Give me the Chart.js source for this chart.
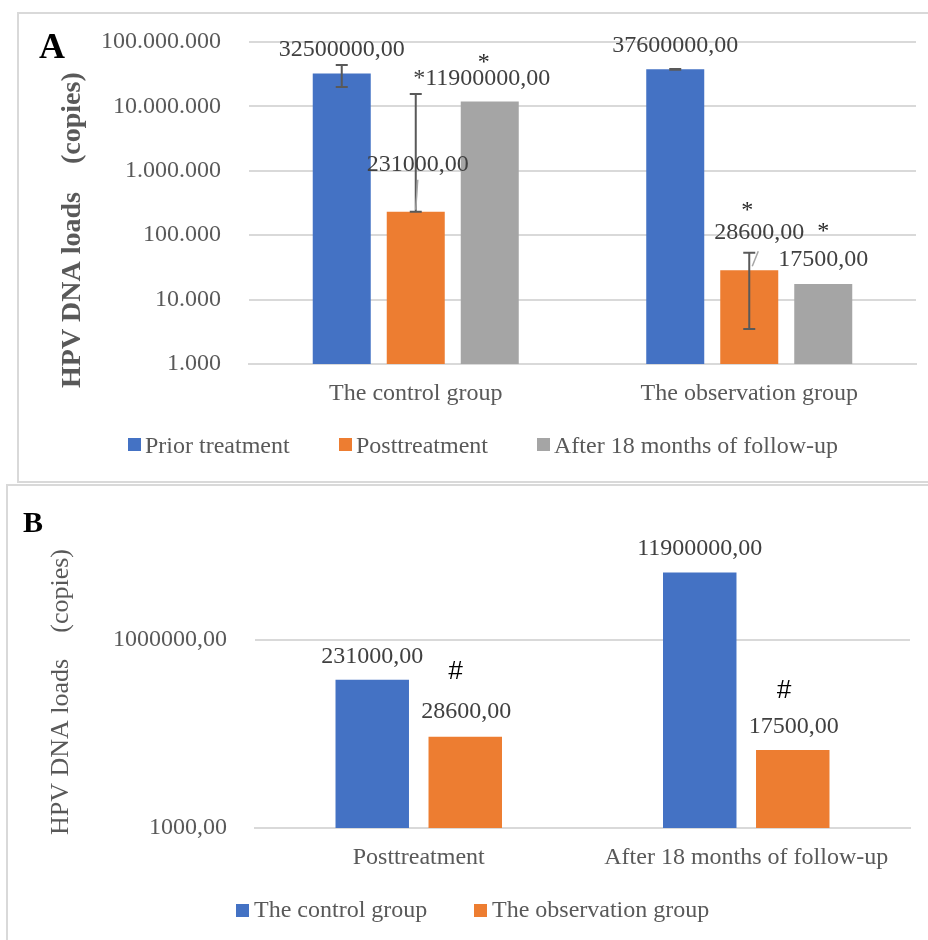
<!DOCTYPE html>
<html>
<head>
<meta charset="utf-8">
<script src="https://cdn.jsdelivr.net/npm/chart.js@4/dist/chart.umd.min.js"></script>
<style>
  html, body { margin: 0; padding: 0; background: #ffffff; width: 928px; height: 940px; overflow: hidden; }
  canvas { position: absolute; left: 0; }
  #chartA { top: 0; }
  #chartB { top: 484px; }
</style>
</head>
<body>
<canvas id="chartA" width="928" height="484"></canvas>
<canvas id="chartB" width="928" height="456"></canvas>
<script>
// ---------- Panel A data ----------
const groupsA = ['The control group', 'The observation group'];
const seriesA = ['Prior treatment', 'Posttreatment', 'After 18 months of follow-up'];
const priorA = [32500000, 37600000];
const postA = [231000, 28600];
const followA = [11900000, 17500];
const priorErrLowA = [20000000, 37200000];
const priorErrHighA = [44000000, 38000000];
const postErrLowA = [231000, 3500];
const postErrHighA = [15600000, 53500];
const yTicksA = [1000, 10000, 100000, 1000000, 10000000, 100000000];
const yTickLabelsA = ['1.000', '10.000', '100.000', '1.000.000', '10.000.000', '100.000.000'];

// ---------- Panel B data ----------
const categoriesB = ['Posttreatment', 'After 18 months of follow-up'];
const seriesB = ['The control group', 'The observation group'];
const controlB = [231000, 11900000];
const observationB = [28600, 17500];
const yTicksB = [1000, 1000000];
const yTickLabelsB = ['1000,00', '1000000,00'];

// ---------- styling ----------
const SERIF = "'Liberation Serif', 'Times New Roman', 'Noto Sans CJK SC', serif";
const BLUE = '#4472C4', ORANGE = '#ED7D31', GRAY = '#A5A5A5';
const fmt = v => v.toFixed(2).replace('.', ',');

function decor(cfg) {
  return {
    id: 'decor',
    beforeDraw(chart) {
      const ctx = chart.ctx;
      ctx.save();
      ctx.fillStyle = '#ffffff';
      ctx.fillRect(0, 0, chart.width, chart.height);
      ctx.strokeStyle = '#d9d9d9';
      ctx.lineWidth = 2;
      ctx.strokeRect(cfg.box[0], cfg.box[1], cfg.box[2], cfg.box[3]);
      ctx.restore();
    },
    afterDatasetsDraw(chart) {
      const ctx = chart.ctx;
      const ys = chart.scales.y;
      ctx.save();
      // error bars
      (cfg.errors || []).forEach(e => {
        const el = chart.getDatasetMeta(e.ds).data[e.i];
        const y1 = ys.getPixelForValue(e.low[e.i]);
        const y2 = ys.getPixelForValue(e.high[e.i]);
        ctx.strokeStyle = '#595959';
        ctx.lineWidth = 2;
        ctx.beginPath();
        ctx.moveTo(el.x, y1); ctx.lineTo(el.x, y2);
        ctx.moveTo(el.x - 6, y1); ctx.lineTo(el.x + 6, y1);
        ctx.moveTo(el.x - 6, y2); ctx.lineTo(el.x + 6, y2);
        ctx.stroke();
      });
      // leader lines
      (cfg.leaders || []).forEach(l => {
        const el = chart.getDatasetMeta(l.ds).data[l.i];
        ctx.strokeStyle = '#a6a6a6';
        ctx.lineWidth = 1.5;
        ctx.beginPath();
        ctx.moveTo(el.x + l.from[0], el.y + l.from[1]);
        ctx.lineTo(el.x + l.to[0], el.y + l.to[1]);
        ctx.stroke();
      });
      // data labels
      ctx.font = '24px ' + SERIF;
      ctx.fillStyle = '#404040';
      ctx.textAlign = 'center';
      ctx.textBaseline = 'alphabetic';
      (cfg.labels || []).forEach(l => {
        const el = chart.getDatasetMeta(l.ds).data[l.i];
        const v = chart.data.datasets[l.ds].data[l.i];
        ctx.fillText((l.prefix || '') + fmt(v), el.x + l.dx, el.y + l.dy);
      });
      // significance marks
      (cfg.marks || []).forEach(m => {
        const el = chart.getDatasetMeta(m.ds).data[m.i];
        ctx.font = m.font;
        ctx.fillStyle = m.color;
        ctx.textAlign = 'center';
        ctx.fillText(m.text, el.x + m.dx, el.y + m.dy);
      });
      ctx.restore();
    },
    afterDraw(chart) {
      const ctx = chart.ctx;
      ctx.save();
      // panel letter
      ctx.font = cfg.letter.font;
      ctx.fillStyle = '#000000';
      ctx.textAlign = 'left';
      ctx.textBaseline = 'alphabetic';
      ctx.fillText(cfg.letter.text, cfg.letter.x, cfg.letter.y);
      // y title
      ctx.save();
      ctx.translate(cfg.yTitle.x, cfg.yTitle.y);
      ctx.rotate(-Math.PI / 2);
      ctx.font = cfg.yTitle.font;
      ctx.fillStyle = '#595959';
      ctx.textAlign = 'left';
      ctx.fillText(cfg.yTitle.text, 0, 0);
      ctx.restore();
      // legend
      const lg = cfg.legend;
      ctx.font = '24px ' + SERIF;
      chart.data.datasets.forEach((d, k) => {
        const x = lg.xs[k];
        ctx.fillStyle = d.backgroundColor;
        ctx.fillRect(x, lg.boxY, 13, 13);
        ctx.fillStyle = '#595959';
        ctx.textAlign = 'left';
        ctx.fillText(d.label, x + 13 + lg.boxGap, lg.baseline);
      });
      ctx.restore();
    }
  };
}

const tickFont = { family: SERIF, size: 24 };

// ---------- Chart A ----------
new Chart(document.getElementById('chartA'), {
  type: 'bar',
  data: {
    labels: groupsA,
    datasets: [
      { label: seriesA[0], data: priorA, backgroundColor: BLUE },
      { label: seriesA[1], data: postA, backgroundColor: ORANGE },
      { label: seriesA[2], data: followA, backgroundColor: GRAY }
    ]
  },
  options: {
    responsive: false,
    animation: false,
    devicePixelRatio: 1,
    layout: { padding: { left: 0, right: 12, top: 42, bottom: 0 } },
    datasets: { bar: { categoryPercentage: 0.6657, barPercentage: 0.7838 } },
    plugins: { legend: { display: false }, tooltip: { enabled: false } },
    scales: {
      x: {
        grid: { display: false, drawTicks: false },
        border: { display: true, color: '#d9d9d9', width: 2 },
        ticks: { padding: 15, color: '#595959', font: tickFont },
        afterFit: s => { s.height = 120; }
      },
      y: {
        type: 'logarithmic',
        min: 1000,
        max: 100000000,
        afterBuildTicks: s => { s.ticks = yTicksA.map(v => ({ value: v })); },
        grid: { color: '#d9d9d9', lineWidth: 2, drawTicks: false },
        border: { display: false },
        ticks: { padding: 28, color: '#595959', font: tickFont, autoSkip: false,
                 callback: v => yTickLabelsA[yTicksA.indexOf(v)] },
        afterFit: s => { s.width = 249; s.paddingTop = 0; s.paddingBottom = 0; }
      }
    }
  },
  plugins: [decor({
    box: [18, 13, 940, 469],
    letter: { text: 'A', font: 'bold 36px ' + SERIF, x: 39, y: 58 },
    yTitle: { text: 'HPV DNA loads\u3000(copies)', font: 'bold 28px ' + SERIF, x: 80, y: 388 },
    legend: { xs: [128, 339, 537], boxY: 438, baseline: 453, boxGap: 4 },
    errors: [
      { ds: 0, i: 0, low: priorErrLowA, high: priorErrHighA },
      { ds: 0, i: 1, low: priorErrLowA, high: priorErrHighA },
      { ds: 1, i: 0, low: postErrLowA, high: postErrHighA },
      { ds: 1, i: 1, low: postErrLowA, high: postErrHighA }
    ],
    leaders: [
      { ds: 1, i: 0, from: [2, -32], to: [0, -2] },
      { ds: 1, i: 1, from: [9, -19], to: [3, -4] }
    ],
    labels: [
      { ds: 0, i: 0, dx: 0, dy: -17 },
      { ds: 0, i: 1, dx: 0, dy: -17 },
      { ds: 1, i: 0, dx: 2, dy: -41 },
      { ds: 1, i: 1, dx: 10, dy: -31 },
      { ds: 2, i: 0, dx: -8, dy: -17, prefix: '*' },
      { ds: 2, i: 1, dx: 0, dy: -18 }
    ],
    marks: [
      { ds: 2, i: 0, text: '*', dx: -6, dy: -33, font: '24px ' + SERIF, color: '#262626' },
      { ds: 1, i: 1, text: '*', dx: -2, dy: -53, font: '24px ' + SERIF, color: '#262626' },
      { ds: 2, i: 1, text: '*', dx: 0, dy: -46, font: '24px ' + SERIF, color: '#262626' }
    ]
  })]
});

// ---------- Chart B ----------
new Chart(document.getElementById('chartB'), {
  type: 'bar',
  data: {
    labels: categoriesB,
    datasets: [
      { label: seriesB[0], data: controlB, backgroundColor: BLUE },
      { label: seriesB[1], data: observationB, backgroundColor: ORANGE }
    ]
  },
  options: {
    responsive: false,
    animation: false,
    devicePixelRatio: 1,
    layout: { padding: { left: 0, right: 18, top: 30.5, bottom: 0 } },
    datasets: { bar: { categoryPercentage: 0.568, barPercentage: 0.79 } },
    plugins: { legend: { display: false }, tooltip: { enabled: false } },
    scales: {
      x: {
        grid: { display: false, drawTicks: false },
        border: { display: true, color: '#d9d9d9', width: 2 },
        ticks: { padding: 15, color: '#595959', font: tickFont },
        afterFit: s => { s.height = 112; }
      },
      y: {
        type: 'logarithmic',
        min: 1000,
        max: 100000000,
        afterBuildTicks: s => { s.ticks = yTicksB.map(v => ({ value: v })); },
        grid: { color: '#d9d9d9', lineWidth: 2, drawTicks: false },
        border: { display: false },
        ticks: { padding: 28, color: '#595959', font: tickFont, autoSkip: false,
                 callback: v => yTickLabelsB[yTicksB.indexOf(v)] },
        afterFit: s => { s.width = 255; s.paddingTop = 0; s.paddingBottom = 0; }
      }
    }
  },
  plugins: [decor({
    box: [7, 1, 940, 470],
    letter: { text: 'B', font: 'bold 30px ' + SERIF, x: 23, y: 48 },
    yTitle: { text: 'HPV DNA loads\u3000(copies)', font: '26px ' + SERIF, x: 68, y: 351 },
    legend: { xs: [236, 474], boxY: 420, baseline: 433, boxGap: 5 },
    labels: [
      { ds: 0, i: 0, dx: 0, dy: -17 },
      { ds: 0, i: 1, dx: 0, dy: -17 },
      { ds: 1, i: 0, dx: 1, dy: -19 },
      { ds: 1, i: 1, dx: 1, dy: -17 }
    ],
    marks: [
      { ds: 1, i: 0, text: '#', dx: -10, dy: -58, font: 'italic 26px "Liberation Sans", Arial, sans-serif', color: '#000000' },
      { ds: 1, i: 1, text: '#', dx: -9, dy: -52, font: 'italic 26px "Liberation Sans", Arial, sans-serif', color: '#000000' }
    ]
  })]
});
</script>
</body>
</html>
